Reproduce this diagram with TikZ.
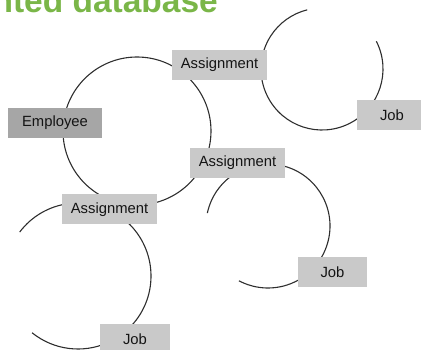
\documentclass[tikz,border=0pt]{standalone}
\usepackage{fontspec}
\setmainfont{Liberation Sans}
\definecolor{recgray}{HTML}{C9C9C9}
\definecolor{empgray}{HTML}{A6A6A6}
\definecolor{titlegreen}{HTML}{7AB648}
\begin{document}
\begin{tikzpicture}[x=1pt, y=-1pt,
        rec/.style={fill=recgray, minimum height=30pt, inner sep=0pt,
            font=\fontsize{14.8}{16}\selectfont, text=black!92},
        ring/.style={draw=black!82, line width=1.1pt}]
    \useasboundingbox (0,0) rectangle (421,350);
    \clip (0,0) rectangle (421,350);
    \node[anchor=base east, text=titlegreen, inner sep=0pt,
        font=\bfseries\fontsize{33.5}{36}\selectfont] (title) at (218,13) {nted database};

    \coordinate (cA) at (137,131);
    \coordinate (cB) at (322,69);
    \coordinate (cC) at (268,226);
    \coordinate (cD) at (78,276);
    \draw[ring] (cA) circle[radius=74];
    \draw[ring] (cB) ++(-27:61) arc[start angle=-27, end angle=256, radius=61];
    \draw[ring] (cC) ++(192:62) arc[start angle=192, end angle=478, radius=62];
    \draw[ring] (cD) ++(217:73) arc[start angle=217, end angle=489, radius=73];

    \node[rec, minimum width=95pt] (asgTop) at (219.5,65) {Assignment};
    \node[rec, minimum width=70pt] (jobTop) at (392,115) {Job};
    \node[rec, minimum width=94pt, fill=empgray] (emp) at (55,123) {Employee};
    \node[rec, minimum width=95pt] (asgMid) at (237.5,163) {Assignment};
    \node[rec, minimum width=95pt] (asgLow) at (109.5,209.5) {Assignment};
    \node[rec, minimum width=69pt] (jobMid) at (332.5,272) {Job};
    \node[rec, minimum width=70pt] (jobLow) at (135,339) {Job};
\end{tikzpicture}
\end{document}
